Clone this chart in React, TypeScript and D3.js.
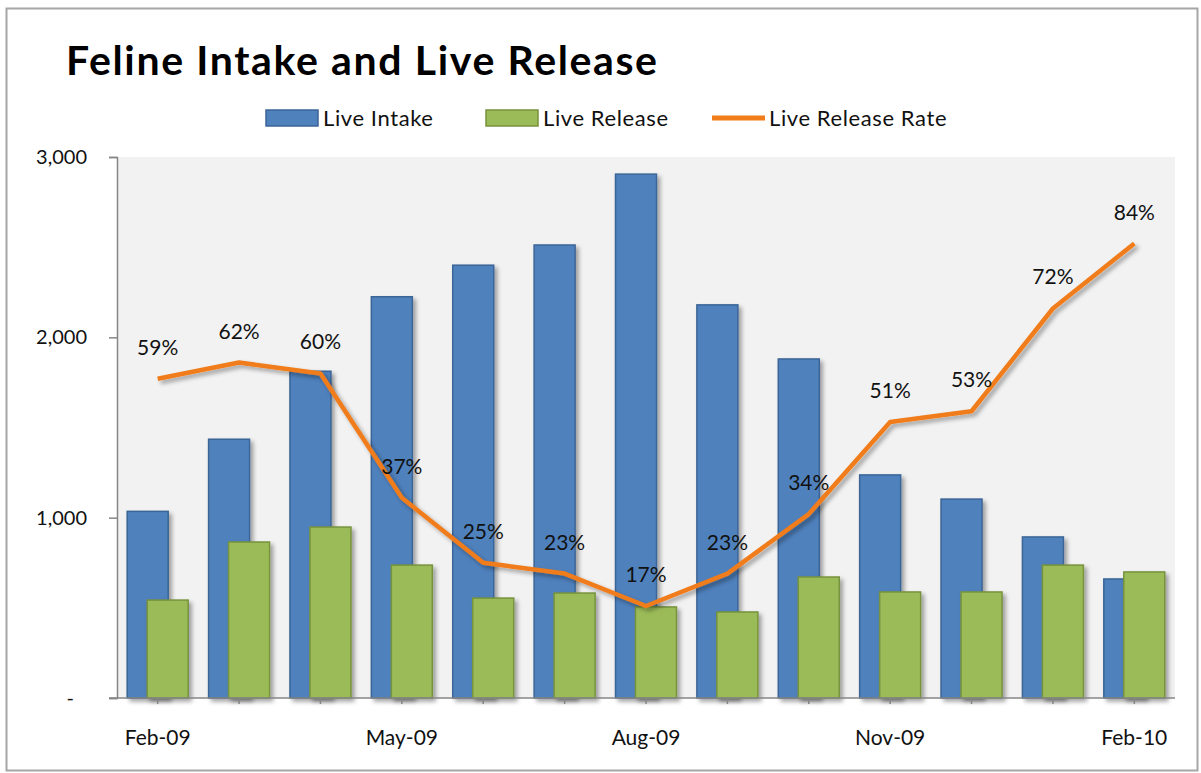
import React, { useEffect, useRef } from 'react';
import * as d3 from 'd3';

const months = ['Feb-09', 'Mar-09', 'Apr-09', 'May-09', 'Jun-09', 'Jul-09', 'Aug-09', 'Sep-09', 'Oct-09', 'Nov-09', 'Dec-09', 'Jan-10', 'Feb-10'];
const liveIntake = [1035, 1435, 1812, 2225, 2400, 2512, 2905, 2180, 1880, 1237, 1103, 893, 660];
const liveRelease = [543, 865, 948, 737, 554, 582, 505, 477, 671, 588, 588, 737, 699];
const releaseRate = [0.59, 0.62, 0.60, 0.37, 0.25, 0.23, 0.17, 0.23, 0.34, 0.51, 0.53, 0.72, 0.84];
const yTicks = [0, 1000, 2000, 3000];
const xLabels = ['Feb-09', 'May-09', 'Aug-09', 'Nov-09', 'Feb-10'];

const FONT = 'Lato, "Open Sans", sans-serif';

const FelineChart = () => {
  const svgRef: any = useRef();

  useEffect(() => {
    const width = 1201;
    const height = 773;
    const left = 117, right = 1175, top = 157, bottom = 698;

    const svg = d3.select(svgRef.current)
      .attr('width', width)
      .attr('height', height);
    svg.selectAll('*').remove();

    // shadow filter, like the Excel bars
    const defs = svg.append('defs');
    const f = defs.append('filter').attr('id', 'shadow')
      .attr('x', '-20%').attr('y', '-20%').attr('width', '150%').attr('height', '150%');
    f.append('feDropShadow').attr('dx', 3).attr('dy', 3).attr('stdDeviation', 2)
      .attr('flood-color', '#000').attr('flood-opacity', 0.35);

    // outer chart border
    svg.append('rect')
      .attr('x', 6.5).attr('y', 8.5).attr('width', 1191).attr('height', 762)
      .attr('fill', '#fff').attr('stroke', '#a6a6a6').attr('stroke-width', 2);

    svg.append('text')
      .attr('x', 66).attr('y', 75)
      .attr('font-family', FONT).attr('font-weight', 700).attr('font-size', 41)
      .attr('textLength', 591).attr('lengthAdjust', 'spacing')
      .attr('fill', '#000')
      .text('Feline Intake and Live Release');

    const x = d3.scaleBand().domain(months).range([left, right]).padding(0);
    const y = d3.scaleLinear().domain([0, 3000]).range([bottom, top]);
    const yRate = d3.scaleLinear().domain([0, 1]).range([bottom, top]);

    // plot area
    svg.append('rect')
      .attr('x', left).attr('y', top).attr('width', right - left).attr('height', bottom - top)
      .attr('fill', '#f2f2f2');

    const barW = 41;
    const offset = 10;

    svg.append('g').selectAll('rect')
      .data(months)
      .join('rect')
      .attr('x', (d, i) => x(d)! + x.bandwidth() / 2 - offset - barW / 2)
      .attr('y', (d, i) => y(liveIntake[i]))
      .attr('width', barW)
      .attr('height', (d, i) => bottom - y(liveIntake[i]))
      .attr('fill', '#4f81bd')
      .attr('stroke', '#3b6597')
      .attr('stroke-width', 1.5)
      .attr('filter', 'url(#shadow)');

    svg.append('g').selectAll('rect')
      .data(months)
      .join('rect')
      .attr('x', (d, i) => x(d)! + x.bandwidth() / 2 + offset - barW / 2)
      .attr('y', (d, i) => y(liveRelease[i]))
      .attr('width', barW)
      .attr('height', (d, i) => bottom - y(liveRelease[i]))
      .attr('fill', '#9bbb59')
      .attr('stroke', '#77933c')
      .attr('stroke-width', 1.5)
      .attr('filter', 'url(#shadow)');

    // axes
    const axisColor = '#868686';
    const yAxis = svg.append('g')
      .attr('transform', `translate(${left},0)`)
      .call(d3.axisLeft(y).tickValues(yTicks).tickSize(8).tickFormat(() => ''));
    yAxis.select('.domain').attr('stroke', axisColor).attr('stroke-width', 1.5);
    yAxis.selectAll('.tick line').attr('stroke', axisColor).attr('stroke-width', 1.5);

    svg.append('g').selectAll('text')
      .data(yTicks)
      .join('text')
      .attr('x', d => (d === 0 ? 74 : 87))
      .attr('y', d => y(d) + 7)
      .attr('text-anchor', 'end')
      .attr('font-family', FONT).attr('font-size', 20).attr('fill', '#111')
      .text(d => (d === 0 ? '-' : d3.format(',')(d)));

    const xAxis = svg.append('g')
      .attr('transform', `translate(0,${bottom})`)
      .call(d3.axisBottom(x).tickSize(6).tickFormat(() => ''));
    xAxis.select('.domain').attr('stroke', axisColor).attr('stroke-width', 1.5)
      .attr('d', `M${left - 8},0H${right}`);
    xAxis.selectAll('.tick line').attr('stroke', axisColor).attr('stroke-width', 1.5);

    svg.append('g').selectAll('text')
      .data(xLabels)
      .join('text')
      .attr('x', d => x(d)! + x.bandwidth() / 2)
      .attr('y', 745)
      .attr('text-anchor', 'middle')
      .attr('font-family', FONT).attr('font-size', 21).attr('fill', '#111')
      .text(d => d);

    // rate line
    const line = d3.line<number>()
      .x((d, i) => x(months[i])! + x.bandwidth() / 2)
      .y(d => yRate(d));

    svg.append('path')
      .datum(releaseRate)
      .attr('d', line)
      .attr('fill', 'none')
      .attr('stroke', '#f07c1a')
      .attr('stroke-width', 4.5)
      .attr('stroke-linejoin', 'round')
      .attr('filter', 'url(#shadow)');

    svg.append('g').selectAll('text')
      .data(releaseRate)
      .join('text')
      .attr('x', (d, i) => x(months[i])! + x.bandwidth() / 2)
      .attr('y', d => yRate(d) - 24)
      .attr('text-anchor', 'middle')
      .attr('font-family', FONT).attr('font-size', 21).attr('fill', '#111')
      .text(d => `${Math.round(d * 100)}%`);

    // legend
    const legend = [
      { name: 'Live Intake', type: 'bar', fill: '#4f81bd', stroke: '#3b6597', x: 266 },
      { name: 'Live Release', type: 'bar', fill: '#9bbb59', stroke: '#77933c', x: 486 },
      { name: 'Live Release Rate', type: 'line', fill: '#f07c1a', stroke: '#f07c1a', x: 712 },
    ];
    const lg = svg.append('g').selectAll('g').data(legend).join('g')
      .attr('transform', d => `translate(${d.x},118)`);
    lg.filter(d => d.type === 'bar').append('rect')
      .attr('x', 0).attr('y', -8).attr('width', 52).attr('height', 16)
      .attr('fill', d => d.fill).attr('stroke', d => d.stroke).attr('stroke-width', 1.5);
    lg.filter(d => d.type === 'line').append('line')
      .attr('x1', 0).attr('x2', 53).attr('y1', 0).attr('y2', 0)
      .attr('stroke', d => d.stroke).attr('stroke-width', 5);
    lg.append('text')
      .attr('x', 57).attr('y', 8)
      .attr('font-family', FONT).attr('font-size', 22).attr('letter-spacing', 0.6).attr('fill', '#111')
      .text(d => d.name);
  }, []);

  return <svg ref={svgRef} style={{ display: 'block', position: 'absolute', left: 0, top: 0 }}></svg>;
};

export default function App() {
  return <FelineChart />;
}
